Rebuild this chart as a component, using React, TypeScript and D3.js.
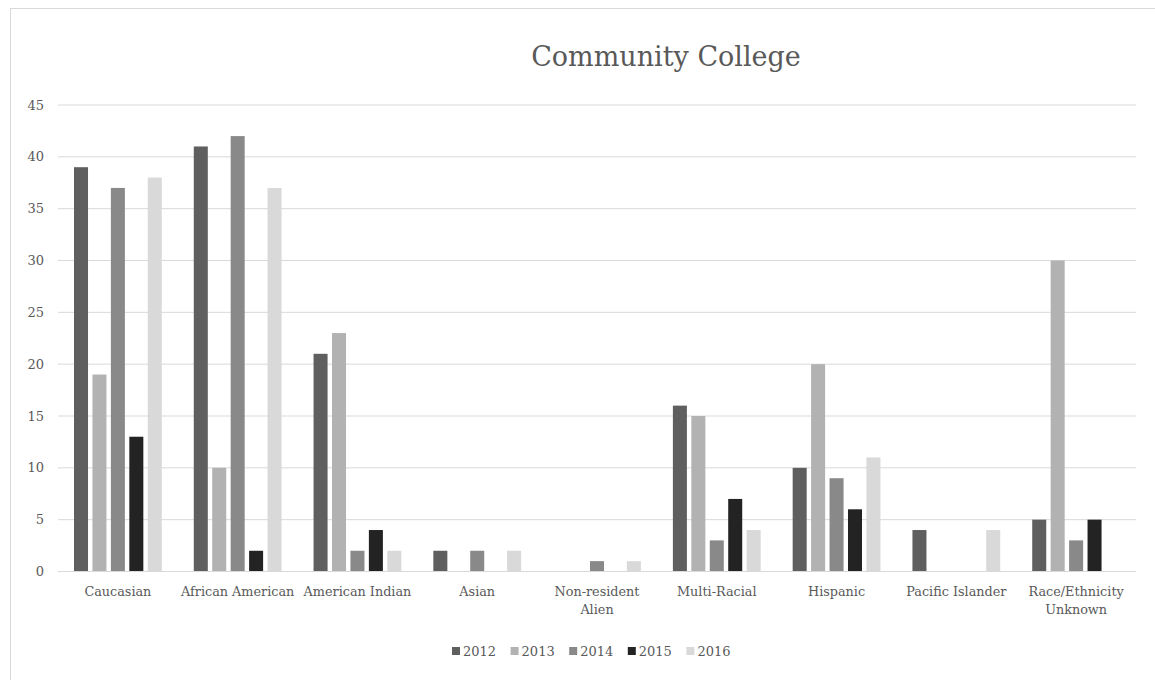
import React, { useEffect, useRef } from 'react';
import * as d3 from 'd3';

const categories = [
  'Caucasian',
  'African American',
  'American Indian',
  'Asian',
  'Non-resident\nAlien',
  'Multi-Racial',
  'Hispanic',
  'Pacific Islander',
  'Race/Ethnicity\nUnknown',
];
const years = ['2012', '2013', '2014', '2015', '2016'];
const values2012 = [39, 41, 21, 2, 0, 16, 10, 4, 5];
const values2013 = [19, 10, 23, 0, 0, 15, 20, 0, 30];
const values2014 = [37, 42, 2, 2, 1, 3, 9, 0, 3];
const values2015 = [13, 2, 4, 0, 0, 7, 6, 0, 5];
const values2016 = [38, 37, 2, 2, 1, 4, 11, 4, 0];
const yTicks = [0, 5, 10, 15, 20, 25, 30, 35, 40, 45];
const colors = ['#5f5f5f', '#b2b2b2', '#898989', '#232323', '#d9d9d9'];

const series = [values2012, values2013, values2014, values2015, values2016];

const App = () => {
  const ref = useRef<SVGSVGElement>(null);

  useEffect(() => {
    document.body.style.margin = '0';
    const svg = d3.select(ref.current);
    svg.selectAll('*').remove();

    const font = "'DejaVu Serif', serif";
    const left = 58;
    const right = 1136;
    const top = 105;
    const bottom = 571.5;

    // frame
    svg
      .append('rect')
      .attr('x', 10.5)
      .attr('y', 8.5)
      .attr('width', 1200)
      .attr('height', 700)
      .attr('fill', 'white')
      .attr('stroke', '#d9d9d9');

    const x0 = d3.scaleBand().domain(categories).range([left, right]).padding(0);
    const x1 = d3
      .scaleBand()
      .domain(years)
      .range([16, x0.bandwidth() - 16])
      .paddingInner(0.24)
      .paddingOuter(0);
    const y = d3.scaleLinear().domain([0, 45]).range([bottom, top]);

    // gridlines
    svg
      .append('g')
      .selectAll('line')
      .data(yTicks)
      .enter()
      .append('line')
      .attr('x1', left)
      .attr('x2', right)
      .attr('y1', d => y(d))
      .attr('y2', d => y(d))
      .attr('stroke', '#d9d9d9')
      .attr('stroke-width', 1);

    // y labels
    svg
      .append('g')
      .selectAll('text')
      .data(yTicks)
      .enter()
      .append('text')
      .attr('x', 44)
      .attr('y', d => y(d) + 4.5)
      .attr('text-anchor', 'end')
      .style('font-family', font)
      .style('font-size', '13px')
      .style('fill', '#595959')
      .text(d => d);

    // bars
    const groups = svg
      .append('g')
      .selectAll('g')
      .data(categories)
      .enter()
      .append('g')
      .attr('transform', d => `translate(${x0(d)},0)`);

    groups
      .selectAll('rect')
      .data((d, i) => years.map((yr, j) => ({ yr, v: series[j][i], c: colors[j] })))
      .enter()
      .append('rect')
      .attr('x', d => x1(d.yr)!)
      .attr('y', d => y(d.v))
      .attr('width', x1.bandwidth())
      .attr('height', d => bottom - y(d.v))
      .attr('fill', d => d.c);

    // axis line
    svg
      .append('line')
      .attr('x1', left)
      .attr('x2', right)
      .attr('y1', bottom)
      .attr('y2', bottom)
      .attr('stroke', '#d9d9d9')
      .attr('stroke-width', 1.2);

    // x labels
    const xl = svg
      .append('g')
      .selectAll('text')
      .data(categories)
      .enter()
      .append('text')
      .attr('x', d => x0(d)! + x0.bandwidth() / 2)
      .attr('y', 596)
      .attr('text-anchor', 'middle')
      .style('font-family', font)
      .style('font-size', '12.8px')
      .style('fill', '#595959');
    xl.selectAll('tspan')
      .data(d => d.split('\n'))
      .enter()
      .append('tspan')
      .attr('x', function () {
        return (this as any).parentNode.getAttribute('x');
      })
      .attr('dy', (d, i) => (i === 0 ? 0 : 18))
      .text(d => d);

    // title
    svg
      .append('text')
      .attr('x', 666)
      .attr('y', 66)
      .attr('text-anchor', 'middle')
      .style('font-family', font)
      .style('font-size', '27px')
      .style('fill', '#595959')
      .text('Community College');

    // legend
    const lx = d3.scaleBand().domain(years).range([452, 745]);
    const leg = svg
      .append('g')
      .selectAll('g')
      .data(years)
      .enter()
      .append('g')
      .attr('transform', d => `translate(${lx(d)},647)`);
    leg
      .append('rect')
      .attr('width', 8)
      .attr('height', 8)
      .attr('fill', (d, i) => colors[i]);
    leg
      .append('text')
      .attr('x', 11)
      .attr('y', 9)
      .style('font-family', font)
      .style('font-size', '13px')
      .style('fill', '#595959')
      .text(d => d);
  }, []);

  return <svg ref={ref} width={1155} height={680} style={{ display: 'block' }}></svg>;
};

export default App;
